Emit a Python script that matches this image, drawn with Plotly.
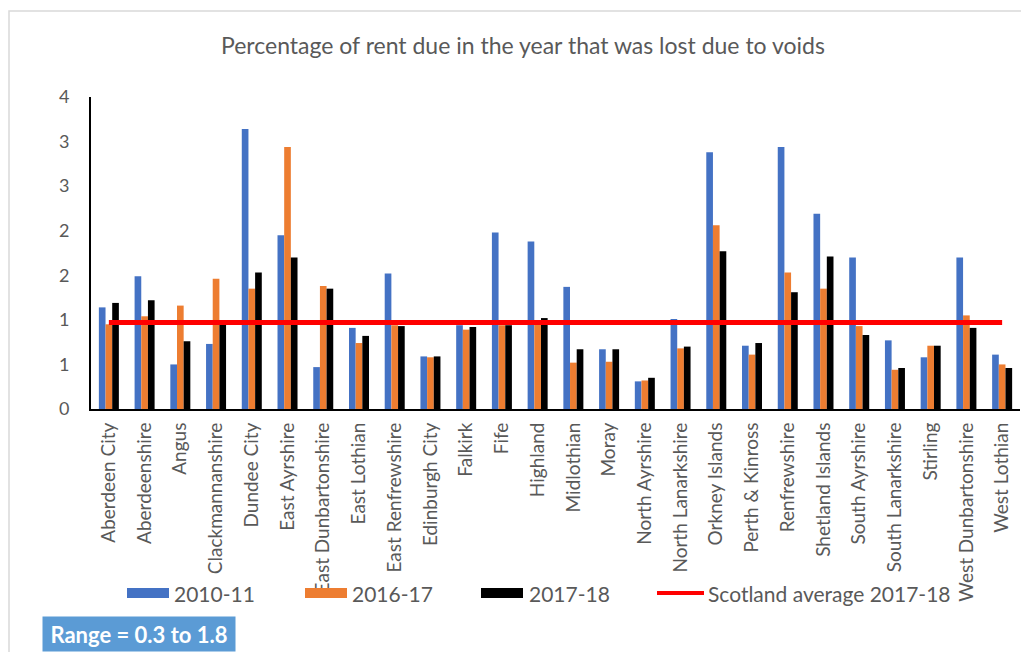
import plotly.graph_objects as go

# Councils shown on the x axis
councils = [
    "Aberdeen City", "Aberdeenshire", "Angus", "Clackmannanshire", "Dundee City",
    "East Ayrshire", "East Dunbartonshire", "East Lothian", "East Renfrewshire",
    "Edinburgh City", "Falkirk", "Fife", "Highland", "Midlothian", "Moray",
    "North Ayrshire", "North Lanarkshire", "Orkney Islands", "Perth & Kinross",
    "Renfrewshire", "Shetland Islands", "South Ayrshire", "South Lanarkshire",
    "Stirling", "West Dunbartonshire", "West Lothian",
]

# Percentage of rent lost due to voids
rent_lost_2010_11 = [
    1.14, 1.49, 0.50, 0.73, 3.14, 1.95, 0.47, 0.91, 1.52, 0.59, 0.94, 1.98, 1.88,
    1.37, 0.67, 0.31, 1.01, 2.88, 0.71, 2.94, 2.19, 1.70, 0.77, 0.58, 1.70, 0.61,
]
rent_lost_2016_17 = [
    0.95, 1.04, 1.16, 1.46, 1.35, 2.94, 1.38, 0.74, 0.94, 0.58, 0.89, 0.94, 0.99,
    0.52, 0.53, 0.32, 0.68, 2.06, 0.61, 1.53, 1.35, 0.93, 0.44, 0.71, 1.05, 0.50,
]
rent_lost_2017_18 = [
    1.19, 1.22, 0.76, 0.95, 1.53, 1.70, 1.35, 0.82, 0.93, 0.59, 0.92, 0.94, 1.02,
    0.67, 0.67, 0.35, 0.70, 1.77, 0.74, 1.31, 1.71, 0.83, 0.46, 0.71, 0.91, 0.46,
]
scotland_average_2017_18 = 0.97

# Y axis ticks (labels shown rounded to whole numbers)
y_tick_values = [0, 0.5, 1, 1.5, 2, 2.5, 3, 3.5]
y_tick_labels = ["0", "1", "1", "2", "2", "3", "3", "4"]

series_names = ["2010-11", "2016-17", "2017-18"]
series_colors = ["#4472C4", "#ED7D31", "#000000"]
avg_name = "Scotland average 2017-18"
avg_color = "#FF0000"

W, H = 1021, 652
ML, MR, MT, MB = 91, 1, 97, 243
PW, PH = W - ML - MR, H - MT - MB
TEXT = "#595959"
FONT = "Lato"


def px(x):
    return (x - ML) / PW


def py(y):
    return (H - MB - y) / PH


fig = go.Figure()
for name, vals, col in zip(series_names,
                           [rent_lost_2010_11, rent_lost_2016_17, rent_lost_2017_18],
                           series_colors):
    fig.add_trace(go.Bar(x=councils, y=vals, name=name, marker_color=col,
                         marker_line_width=0))

fig.add_trace(go.Scatter(
    x=councils, y=[scotland_average_2017_18] * len(councils), name=avg_name,
    mode="lines", line=dict(color=avg_color, width=5),
))

fig.update_layout(
    width=W, height=H,
    margin=dict(l=ML, r=MR, t=MT, b=MB),
    paper_bgcolor="white", plot_bgcolor="white",
    barmode="group", bargap=0.44, bargroupgap=0.0,
    showlegend=False,
    font=dict(family=FONT, color=TEXT),
)
fig.update_xaxes(
    showline=True, linecolor="black", linewidth=2, showgrid=False,
    tickangle=-90, tickfont=dict(size=19, color=TEXT, family=FONT),
    ticks="outside", ticklen=4, tickcolor="white",
)
fig.update_yaxes(
    range=[0, 3.5], showline=True, linecolor="black", linewidth=2,
    showgrid=False, zeroline=False,
    tickmode="array", tickvals=y_tick_values, ticktext=y_tick_labels,
    tickfont=dict(size=18, color=TEXT, family=FONT),
    ticks="outside", ticklen=16, tickcolor="white",
)

shapes = []
annotations = []

# Outer chart frame
shapes.append(dict(type="rect", xref="paper", yref="paper",
                   x0=px(9), x1=px(1040), y0=py(700), y1=py(11),
                   line=dict(color="#D9D9D9", width=1.5), fillcolor="rgba(0,0,0,0)",
                   layer="below"))

# Title
annotations.append(dict(
    text="Percentage of rent due in the year that was lost due to voids",
    xref="paper", yref="paper", x=px(523), y=py(45), xanchor="center",
    yanchor="middle", showarrow=False, font=dict(size=23, color=TEXT, family=FONT),
))

# Legend row
legend_y = 593
legend_items = [
    (series_names[0], series_colors[0], 127, 169, 172, "bar"),
    (series_names[1], series_colors[1], 305, 347, 350, "bar"),
    (series_names[2], series_colors[2], 481, 523, 527, "bar"),
    (avg_name, avg_color, 657, 704, 706, "line"),
]
for label, col, x0, x1, tx, kind in legend_items:
    if kind == "bar":
        shapes.append(dict(type="rect", xref="paper", yref="paper",
                           x0=px(x0), x1=px(x1), y0=py(legend_y + 5), y1=py(legend_y - 5),
                           fillcolor=col, line=dict(width=0)))
    else:
        shapes.append(dict(type="line", xref="paper", yref="paper",
                           x0=px(x0), x1=px(x1), y0=py(legend_y), y1=py(legend_y),
                           line=dict(color=col, width=4)))
    annotations.append(dict(text=label, xref="paper", yref="paper",
                            x=px(tx), y=py(legend_y), xanchor="left", yanchor="middle",
                            showarrow=False,
                            font=dict(size=21, color=TEXT, family=FONT)))

# Range note
annotations.append(dict(
    text="<b>Range = 0.3 to 1.8</b>", xref="paper", yref="paper",
    x=px(139), y=py(634), xanchor="center", yanchor="middle", showarrow=False,
    bgcolor="#5B9BD5", width=186, height=28, borderpad=3,
    font=dict(size=22, color="white", family=FONT),
))

fig.update_layout(shapes=shapes, annotations=annotations)
fig.write_html("out.html")
